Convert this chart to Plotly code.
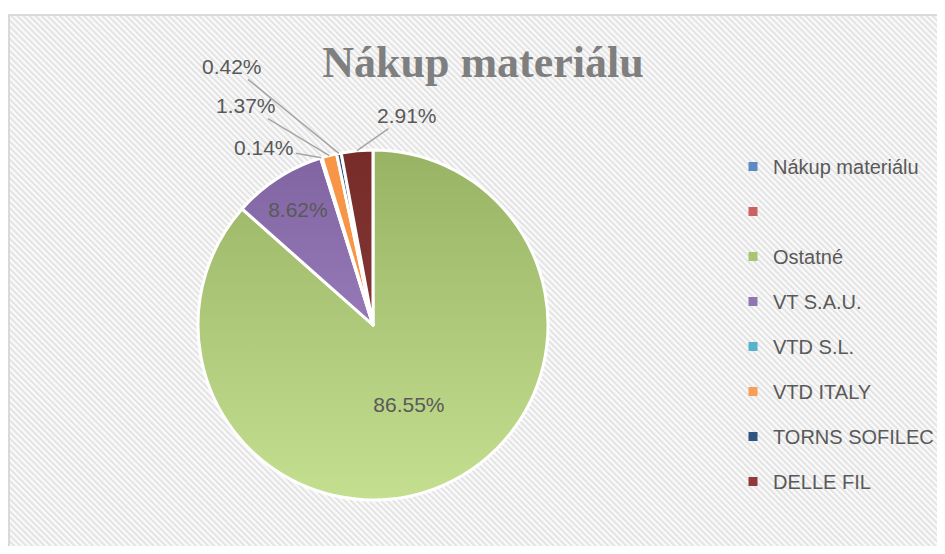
import base64
import math
import plotly.graph_objects as go

# ---- data ----
legend_labels = ["Nákup materiálu", "", "Ostatné", "VT S.A.U.", "VTD S.L.",
                 "VTD ITALY", "TORNS SOFILEC", "DELLE FIL"]
legend_colors = ["#5B8AC4", "#CB625F", "#A9C472", "#8F76B0", "#55B3CC",
                 "#F89E58", "#2F5582", "#93383A"]
pie_labels = ["Ostatné", "VT S.A.U.", "VTD S.L.", "VTD ITALY", "TORNS SOFILEC", "DELLE FIL"]
pie_values = [86.55, 8.62, 0.14, 1.37, 0.42, 2.91]
title_text = "Nákup materiálu"

# ---- styling ----
# slice colours are semi-transparent over a grey->white vertical gradient disc
# to imitate the gradient fill of the original
pie_colors = ["rgba(158,201,70,0.6)", "rgba(117,70,173,0.6)", "#4BACC6",
              "#F79646", "#2C4D75", "rgba(112,19,16,0.8)"]
text_positions = ["inside", "inside", "none", "none", "none", "none"]
# pixel offsets of the outside labels from their slice edge (None = inside label)
label_offsets = [None, None, (-57, -10), (-83, -50), (-107, -87), (50, -35)]

W, H = 937, 538
CX, CY, R = 365, 317, 175          # pie centre / radius in figure pixels

# hatched background
svg = (
    "<svg xmlns='http://www.w3.org/2000/svg' width='940' height='540'>"
    "<defs><pattern id='p' width='4.3' height='10' patternUnits='userSpaceOnUse' "
    "patternTransform='rotate(-45)'>"
    "<rect width='4.3' height='10' fill='#fafafa'/>"
    "<rect width='2' height='10' fill='#e3e3e3'/></pattern></defs>"
    "<rect width='940' height='540' fill='url(#p)'/></svg>"
)
hatch_uri = "data:image/svg+xml;base64," + base64.b64encode(svg.encode()).decode()

disc = (
    "<svg xmlns='http://www.w3.org/2000/svg' width='350' height='350'>"
    "<defs><linearGradient id='g' x1='0' y1='0' x2='0' y2='1'>"
    "<stop offset='0' stop-color='rgb(145,145,145)'/>"
    "<stop offset='1' stop-color='rgb(255,255,255)'/></linearGradient></defs>"
    "<circle cx='175' cy='175' r='175' fill='url(#g)'/></svg>"
)
disc_uri = "data:image/svg+xml;base64," + base64.b64encode(disc.encode()).decode()

fig = go.Figure()

fig.add_trace(go.Pie(
    labels=pie_labels,
    values=pie_values,
    sort=False,
    direction="clockwise",
    rotation=0,
    marker=dict(colors=pie_colors, line=dict(color="white", width=3)),
    texttemplate="%{value:.2f}%",
    textposition=text_positions,
    insidetextorientation="horizontal",
    textfont=dict(family="Liberation Sans", size=21, color="#595959"),
    showlegend=False,
    hoverinfo="label+percent",
    domain=dict(x=[(CX - R) / W, (CX + R) / W], y=[(H - CY - R) / H, (H - CY + R) / H]),
))

# legend entries
for i, (lab, col) in enumerate(zip(legend_labels, legend_colors)):
    fig.add_trace(go.Scatter(
        x=[None], y=[None], mode="markers", name=lab,
        legendgroup=f"g{i}",
        marker=dict(symbol="square", size=9, color=col),
        showlegend=True, hoverinfo="skip",
    ))

# outside labels with leader lines, anchored at each slice's outer edge
annotations = []
total = sum(pie_values)
cum = 0.0
for lab, val, off in zip(pie_labels, pie_values, label_offsets):
    mid = (cum + val / 2) / total * 2 * math.pi
    cum += val
    if off is None:
        continue
    px = CX + R * math.sin(mid)
    py = CY - R * math.cos(mid)
    annotations.append(dict(
        x=px / W, y=1 - py / H, xref="paper", yref="paper",
        text=f"{val:.2f}%", showarrow=True, arrowhead=0, arrowwidth=1.5,
        arrowcolor="#A6A6A6", ax=off[0], ay=off[1], standoff=0,
        font=dict(family="Liberation Sans", size=21, color="#595959"),
    ))

fig.update_layout(
    width=W, height=H,
    margin=dict(l=0, r=0, t=0, b=0),
    paper_bgcolor="white",
    plot_bgcolor="rgba(0,0,0,0)",
    xaxis=dict(visible=False),
    yaxis=dict(visible=False),
    title=dict(
        text=title_text,
        x=475 / W, xanchor="center",
        y=1 - 54 / H, yanchor="middle",
        font=dict(family="Liberation Serif", size=44, color="#7F7F7F", weight="bold"),
    ),
    legend=dict(
        x=725 / W, xanchor="left",
        y=1 - 139 / H, yanchor="top",
        font=dict(family="Liberation Sans", size=20, color="#595959"),
        tracegroupgap=16,
        bgcolor="rgba(0,0,0,0)",
    ),
    annotations=annotations,
    images=[
        dict(source=hatch_uri, xref="paper", yref="paper",
             x=2 / W, y=1 - 8 / H, sizex=1, sizey=1,
             xanchor="left", yanchor="top", sizing="stretch", layer="below"),
        dict(source=disc_uri, xref="paper", yref="paper",
             x=(CX - R) / W, y=1 - (CY - R) / H, sizex=2 * R / W, sizey=2 * R / H,
             xanchor="left", yanchor="top", sizing="stretch", layer="below"),
    ],
    shapes=[
        dict(type="line", xref="paper", yref="paper", x0=1 / W, x1=1 / W,
             y0=0, y1=1 - 6 / H, line=dict(color="#D9D9D9", width=2)),
        dict(type="line", xref="paper", yref="paper", x0=0, x1=1,
             y0=1 - 7 / H, y1=1 - 7 / H, line=dict(color="#D9D9D9", width=2)),
    ],
)

fig.write_html("out.html")
